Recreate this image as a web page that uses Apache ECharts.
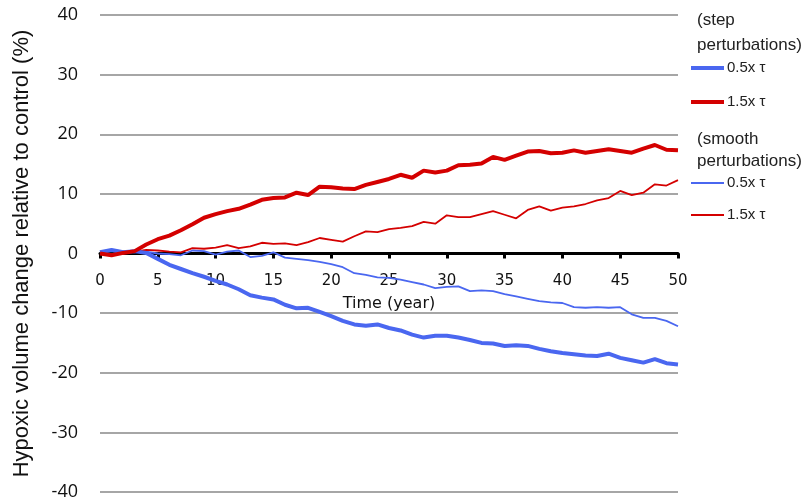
<!DOCTYPE html>
<html>
<head>
<meta charset="utf-8">
<script src="https://cdn.jsdelivr.net/npm/echarts@6/dist/echarts.min.js"></script>
<style>
  html, body { margin: 0; padding: 0; background: #fff; }
  #main { width: 810px; height: 504px; }
</style>
</head>
<body>
<div id="main"></div>
<script>
// years 0..50, values (percent)
const years = [];
for (let y = 0; y <= 50; y++) years.push(y);

const stepLow = [0.2, 0.6, 0.2, 0.4, 0.1, -0.9, -1.9, -2.6, -3.3, -3.9,
  -4.6, -5.2, -6.0, -7.0, -7.4, -7.7, -8.6, -9.2, -9.1, -9.8,
  -10.5, -11.3, -11.9, -12.1, -11.9, -12.5, -12.9, -13.6, -14.1, -13.8,
  -13.8, -14.1, -14.5, -15.0, -15.1, -15.5, -15.4, -15.5, -16.0, -16.4,
  -16.7, -16.9, -17.1, -17.2, -16.8, -17.5, -17.9, -18.3, -17.7, -18.4, -18.6];

const stepHigh = [0, -0.3, 0.1, 0.4, 1.5, 2.4, 3.0, 3.9, 4.9, 6.0,
  6.6, 7.1, 7.5, 8.2, 9.0, 9.3, 9.4, 10.2, 9.8, 11.2,
  11.1, 10.9, 10.8, 11.5, 12.0, 12.5, 13.2, 12.7, 13.9, 13.6,
  13.9, 14.8, 14.9, 15.1, 16.2, 15.7, 16.4, 17.1, 17.2, 16.8,
  16.9, 17.3, 16.9, 17.2, 17.5, 17.2, 16.9, 17.6, 18.2, 17.4, 17.3];

const smoothLow = [0.3, 0.5, 0.4, 0.2, 0.3, 0.0, -0.1, -0.3, 0.5, 0.4,
  -0.2, 0.3, 0.5, -0.6, -0.4, 0.2, -0.7, -0.9, -1.1, -1.4,
  -1.8, -2.3, -3.3, -3.6, -4.0, -4.1, -4.4, -4.8, -5.2, -5.8,
  -5.6, -5.5, -6.3, -6.2, -6.3, -6.8, -7.2, -7.6, -8.0, -8.2,
  -8.3, -9.0, -9.1, -9.0, -9.1, -9.0, -10.2, -10.8, -10.8, -11.3, -12.2];

const smoothHigh = [0.1, -0.1, 0.2, 0.3, 0.6, 0.5, 0.3, 0.2, 0.9, 0.8,
  1.0, 1.4, 0.9, 1.2, 1.8, 1.6, 1.7, 1.4, 1.9, 2.6,
  2.3, 2.0, 2.9, 3.7, 3.6, 4.1, 4.3, 4.6, 5.3, 5.0,
  6.4, 6.1, 6.1, 6.6, 7.1, 6.5, 5.9, 7.3, 7.9, 7.2,
  7.7, 7.9, 8.3, 8.9, 9.3, 10.5, 9.8, 10.2, 11.6, 11.4, 12.3];

const BLUE = '#4a67f0';
const RED = '#d40000';

const GRID_TOP = 15, GRID_BOTTOM = 12, HEIGHT = 504;

function pairs(vals) {
  return years.map((t, i) => [t, vals[i]]);
}

function lineSeries(name, vals, color, width) {
  return {
    name: name,
    type: 'line',
    data: pairs(vals),
    symbol: 'none',
    silent: true,
    color: color,
    lineStyle: { color: color, width: width }
  };
}

// one legend box per entry, so each can sit exactly where it is in the picture
function legendItem(name, centerY, thick) {
  return {
    data: [name],
    orient: 'vertical',
    left: 691,
    top: centerY - 8,
    padding: 0,
    icon: 'rect',
    itemWidth: 33,
    itemHeight: thick,
    itemGap: 0,
    formatter: name => name.split(' ').slice(1).join(' '),
    textStyle: { fontFamily: 'Liberation Sans', fontSize: 15, lineHeight: 16, color: '#222', padding: [0, 0, 0, -2] }
  };
}

const chart = echarts.init(document.getElementById('main'), null, { renderer: 'canvas' });

// y range is symmetric, so zero is at the middle of the grid
const zeroOffset = -(HEIGHT - GRID_TOP - GRID_BOTTOM) / 2;

chart.setOption({
  animation: false,
  backgroundColor: '#fff',
  grid: { left: 100, right: 132, top: GRID_TOP, bottom: GRID_BOTTOM, containLabel: false, outerBoundsMode: 'none' },
  xAxis: {
    type: 'value',
    min: 0,
    max: 50,
    interval: 5,
    position: 'bottom',
    offset: zeroOffset,
    name: 'Time (year)',
    nameLocation: 'middle',
    nameGap: 42,
    nameTextStyle: { fontFamily: 'DejaVu Sans', fontSize: 16, color: '#111' },
    axisLine: { onZero: false, lineStyle: { color: '#000', width: 3 } },
    axisTick: { show: true, length: 5, lineStyle: { color: '#000', width: 3 } },
    axisLabel: { margin: 20, fontFamily: 'DejaVu Sans', fontSize: 15, color: '#111' },
    splitLine: { show: false }
  },
  yAxis: {
    type: 'value',
    min: -40,
    max: 40,
    interval: 10,
    name: 'Hypoxic volume change relative to control (%)',
    nameLocation: 'middle',
    nameGap: 67,
    nameTextStyle: { fontFamily: 'Liberation Sans', fontSize: 22, color: '#111' },
    axisLine: { show: false },
    axisTick: { show: false },
    axisLabel: { margin: 22, fontFamily: 'Open Sans', fontSize: 18, color: '#111' },
    splitLine: { lineStyle: { color: '#a6a6a6', width: 2 } }
  },
  legend: [
    legendItem('step 0.5x τ', 68, 4),
    legendItem('step 1.5x τ', 102, 4),
    legendItem('smooth 0.5x τ', 183, 1.8),
    legendItem('smooth 1.5x τ', 215, 1.8)
  ],
  graphic: [
    { type: 'text', left: 697, top: 12, style: { text: '(step', font: '17px "Liberation Sans"', fill: '#222' } },
    { type: 'text', left: 697, top: 37, style: { text: 'perturbations)', font: '17px "Liberation Sans"', fill: '#222' } },
    { type: 'text', left: 697, top: 131, style: { text: '(smooth', font: '17px "Liberation Sans"', fill: '#222' } },
    { type: 'text', left: 697, top: 153, style: { text: 'perturbations)', font: '17px "Liberation Sans"', fill: '#222' } }
  ],
  series: [
    lineSeries('smooth 0.5x τ', smoothLow, BLUE, 1.8),
    lineSeries('smooth 1.5x τ', smoothHigh, RED, 1.8),
    lineSeries('step 0.5x τ', stepLow, BLUE, 4),
    lineSeries('step 1.5x τ', stepHigh, RED, 4)
  ]
});
</script>
</body>
</html>
